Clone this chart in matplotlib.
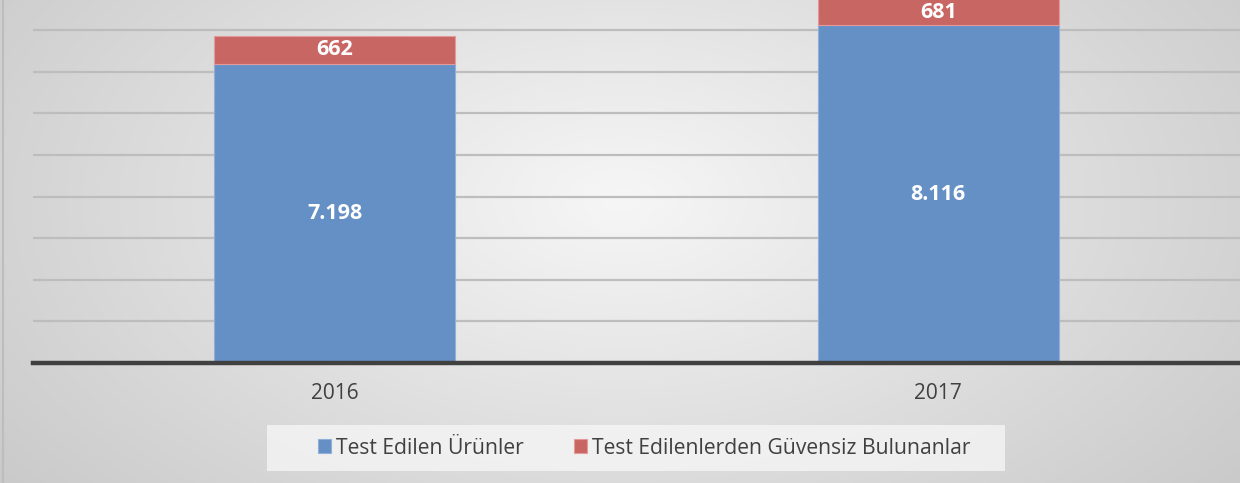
import numpy as np
import matplotlib
matplotlib.use("Agg")
import matplotlib.pyplot as plt
from matplotlib.patches import Patch, Rectangle

# data
years = ["2016", "2017"]
tested = [7198, 8116]
unsafe = [662, 681]
tested_lbl = ["7.198", "8.116"]
unsafe_lbl = ["662", "681"]
series_names = ["Test Edilen Ürünler", "Test Edilenlerden Güvensiz Bulunanlar"]

BLUE = "#6590c5"
RED = "#c86664"
TXT = "#404040"

plt.rcParams["font.family"] = ["Open Sans", "DejaVu Sans"]

W, H = 1240, 483
fig = plt.figure(figsize=(W / 100, H / 100), dpi=100)

# radial grey background
bg = fig.add_axes([0, 0, 1, 1])
yy, xx = np.mgrid[0:H, 0:W]
r = np.sqrt(((xx - 620) / 720.0) ** 2 + ((yy - 200) / 420.0) ** 2)
shade = 0.965 - 0.19 * np.clip(r, 0, 1.2) / 1.2
bg.imshow(np.dstack([shade] * 3), aspect="auto", extent=[0, W, H, 0])
bg.plot([3, 3], [0, H], color="#bdbdbd", lw=1.5)
# legend box
bg.add_patch(Rectangle((267, 425), 738, 46, facecolor="#f7f7f7",
                       alpha=0.75, edgecolor="none"))
bg.set_xlim(0, W)
bg.set_ylim(H, 0)
bg.axis("off")

ax = fig.add_axes([33 / W, (H - 363) / H, 1 - 33 / W, 363 / H])
ax.patch.set_alpha(0)
ymax = 8725
x = np.arange(len(years))
bw = 0.4

ax.bar(x, tested, bw, color=BLUE, edgecolor="#8fb0d8", linewidth=0.8, zorder=3)
ax.bar(x, unsafe, bw, bottom=tested, color=RED, edgecolor="#e39b9a",
       linewidth=0.8, zorder=3)

for i in range(len(years)):
    ax.text(x[i], tested[i] / 2, tested_lbl[i], ha="center", va="center",
            color="white", fontsize=15.5, fontweight="bold", zorder=4)
    top = min(tested[i] + unsafe[i], ymax)
    ax.text(x[i], (tested[i] + top) / 2, unsafe_lbl[i], ha="center",
            va="center", color="white", fontsize=15.5, fontweight="bold",
            zorder=4)

ax.set_xlim(-0.5, 1.5)
ax.set_ylim(0, ymax)
ax.set_yticks(np.arange(1000, 9000, 1000))
ax.yaxis.grid(True, color="#bdbdbd", lw=1.6, zorder=0)
ax.tick_params(axis="y", left=False, labelleft=False)
ax.tick_params(axis="x", bottom=False, pad=11, labelsize=15, labelcolor=TXT)
ax.set_xticks(x)
ax.set_xticklabels(years)
for s in ["top", "right", "left"]:
    ax.spines[s].set_visible(False)
ax.spines["bottom"].set_color("#404040")
ax.spines["bottom"].set_linewidth(3.2)
ax.spines["bottom"].set_zorder(5)

handles = [Patch(facecolor=BLUE, edgecolor="#8fb0d8", lw=0.8),
           Patch(facecolor=RED, edgecolor="#e39b9a", lw=0.8)]
leg = fig.legend(handles, series_names, loc="center left",
                 bbox_to_anchor=(318 / W, (H - 448) / H), ncol=2,
                 fontsize=15.2, frameon=False,
                 handlelength=0.62, handleheight=0.62, handletextpad=0.25,
                 columnspacing=2.35, borderpad=0, borderaxespad=0)
for t in leg.get_texts():
    t.set_color(TXT)

fig.savefig("out.png", dpi=100)
